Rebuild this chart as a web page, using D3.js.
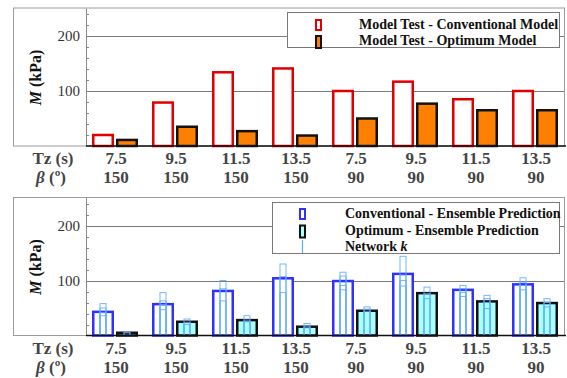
<!DOCTYPE html>
<html>
<head>
<meta charset="utf-8">
<script src="https://cdn.jsdelivr.net/npm/d3@7"></script>
<style>
  body { margin: 0; background: #fff; }
</style>
</head>
<body>
<div id="viz"></div>
<script>
// data
var tzLabels = ["7.5", "9.5", "11.5", "13.5", "7.5", "9.5", "11.5", "13.5"];
var betaLabels = ["150", "150", "150", "150", "90", "90", "90", "90"];

var testConventional = [20, 79, 134, 141, 100, 117, 85, 100];
var testOptimum = [11, 35, 27, 19, 50, 77, 65, 65];

var predConventional = [43, 57, 81, 104, 99, 112, 83, 93];
var predOptimum = [5, 25, 28, 16, 45, 77, 62, 59];

// individual network k predictions
var networkConventional = [[58, 50, 42, 36], [78, 63, 56, 47], [100, 85, 63], [130, 107, 78],
  [115, 108, 91, 83], [144, 110, 100, 90], [91, 85, 78, 71], [105, 97, 91, 83]];
var networkOptimum = [[6, 5], [30, 24, 20], [36, 28, 25], [22, 17, 14],
  [52, 48, 44], [88, 76, 67], [73, 67, 60, 49], [67, 60, 52]];

var yMajorTicks = [100, 200];
var yMinorTicks = [20, 40, 60, 80, 120, 140, 160, 180, 220, 240];

var serif = "'Liberation Serif', 'Times New Roman', 'DejaVu Serif', serif";

var svg = d3.select("#viz")
  .append("svg")
  .attr("width", 567)
  .attr("height", 378)
  .attr("font-family", serif);

var x = d3.scaleBand().domain(d3.range(tzLabels.length)).range([86, 566]);
var xs = d3.scaleBand().domain(["conv", "opt"]).range([6, 52]).paddingInner(1 / 12);

function drawPanel(cfg) {
  var y = d3.scaleLinear().domain([0, 250]).range([cfg.bottom, cfg.bottom - 137.5]);
  var g = svg.append("g");

  // outer frame
  g.append("rect")
    .attr("x", 13.5).attr("y", cfg.bottom - 138)
    .attr("width", 551).attr("height", 138)
    .attr("fill", "none").attr("stroke", "#9a9a9a").attr("stroke-width", 1);

  // grid lines
  g.selectAll("line.grid")
    .data(yMajorTicks)
    .enter()
    .append("line")
    .attr("x1", 86).attr("x2", 564)
    .attr("y1", function(d) { return Math.round(y(d)) + 0.5; })
    .attr("y2", function(d) { return Math.round(y(d)) + 0.5; })
    .attr("stroke", "#7a7a7a").attr("stroke-width", 1);

  // left axis
  g.append("line")
    .attr("x1", 86.5).attr("x2", 86.5)
    .attr("y1", y(250)).attr("y2", y(0))
    .attr("stroke", "#8a8a8a");
  g.selectAll("line.minor")
    .data(yMinorTicks)
    .enter()
    .append("line")
    .attr("x1", 86).attr("x2", 89)
    .attr("y1", function(d) { return Math.round(y(d)) + 0.5; })
    .attr("y2", function(d) { return Math.round(y(d)) + 0.5; })
    .attr("stroke", "#8a8a8a");
  g.selectAll("text.ytick")
    .data(yMajorTicks)
    .enter()
    .append("text")
    .attr("x", 80)
    .attr("y", function(d) { return y(d); })
    .attr("dy", "0.35em")
    .attr("text-anchor", "end")
    .attr("font-family", serif)
    .attr("font-size", 15)
    .attr("fill", "#333")
    .text(function(d) { return d; });

  // y label
  var yl = g.append("text")
    .attr("transform", "translate(41," + (cfg.bottom - 68.5) + ") rotate(-90)")
    .attr("text-anchor", "middle")
    .attr("font-family", serif)
    .attr("font-size", 16)
    .attr("font-weight", "bold")
    .attr("fill", "#111");
  yl.append("tspan").attr("font-style", "italic").text("M");
  yl.append("tspan").text(" (kPa)");

  // main bars
  cfg.series.forEach(function(s) {
    g.selectAll("rect." + s.key)
      .data(s.values)
      .enter()
      .append("rect")
      .attr("x", function(d, i) { return x(i) + xs(s.key) + 1.25; })
      .attr("width", xs.bandwidth() - 2.5)
      .attr("y", function(d) { return y(d); })
      .attr("height", function(d) { return y(0) - y(d); })
      .attr("fill", s.fill)
      .attr("stroke", s.stroke)
      .attr("stroke-width", 2.5);
  });

  // network k bars
  if (cfg.networks) {
    cfg.networks.forEach(function(n) {
      n.values.forEach(function(vals, i) {
        g.selectAll("rect.net" + n.key + i)
          .data(vals)
          .enter()
          .append("rect")
          .attr("x", x(i) + xs(n.key) + xs.bandwidth() / 2 - 3)
          .attr("width", 6)
          .attr("y", function(d) { return y(d); })
          .attr("height", function(d) { return y(0) - y(d); })
          .attr("fill", "none")
          .attr("stroke", "#5aaaff")
          .attr("stroke-opacity", 0.85)
          .attr("stroke-width", 1);
      });
    });
  }

  // bottom axis line
  g.append("line")
    .attr("x1", 86).attr("x2", 566)
    .attr("y1", y(0)).attr("y2", y(0))
    .attr("stroke", "#111").attr("stroke-width", 1.5);

  // category labels
  var rows = [{ labels: tzLabels, dy: 18 }, { labels: betaLabels, dy: 37 }];
  rows.forEach(function(r) {
    g.selectAll("text.cat")
      .data(r.labels, function(d, i) { return i + r.dy; })
      .enter()
      .append("text")
      .attr("x", function(d, i) { return x(i) + x.bandwidth() / 2; })
      .attr("y", cfg.bottom + r.dy)
      .attr("text-anchor", "middle")
      .attr("font-family", serif)
      .attr("font-size", 17)
      .attr("font-weight", "bold")
      .attr("fill", "#444")
      .text(function(d) { return d; });
  });
  g.append("text")
    .attr("x", 53).attr("y", cfg.bottom + 18)
    .attr("text-anchor", "middle")
    .attr("font-family", serif)
    .attr("font-size", 17).attr("font-weight", "bold").attr("fill", "#444")
    .text("Tz (s)");
  var bl = g.append("text")
    .attr("x", 51).attr("y", cfg.bottom + 37)
    .attr("text-anchor", "middle")
    .attr("font-family", serif)
    .attr("font-size", 17).attr("font-weight", "bold").attr("fill", "#444");
  bl.append("tspan").attr("font-style", "italic").text("β");
  bl.append("tspan").text(" (º)");

  // legend
  var lg = cfg.legend;
  g.append("rect")
    .attr("x", lg.x + 0.5).attr("y", lg.y + 0.5)
    .attr("width", lg.w).attr("height", lg.h)
    .attr("fill", "#fff").attr("stroke", "#777");
  lg.items.forEach(function(it, i) {
    var base = lg.y + lg.first + i * lg.step;
    if (it.type === "line") {
      g.append("line")
        .attr("x1", lg.sx + 2.5).attr("x2", lg.sx + 2.5)
        .attr("y1", base - 11).attr("y2", lg.y + lg.h)
        .attr("stroke", "#5aaaff").attr("stroke-width", 1.2);
    } else {
      g.append("rect")
        .attr("x", lg.sx).attr("y", base - 9)
        .attr("width", 5).attr("height", 10 + i * 2)
        .attr("fill", it.fill).attr("stroke", it.stroke).attr("stroke-width", 2);
    }
    var t = g.append("text")
      .attr("x", lg.tx).attr("y", base)
      .attr("font-family", serif)
      .attr("font-size", 14).attr("font-weight", "bold").attr("fill", "#111");
    t.append("tspan").text(it.label);
    if (it.italic) t.append("tspan").attr("font-style", "italic").text(it.italic);
  });
}

drawPanel({
  bottom: 146,
  series: [
    { key: "conv", values: testConventional, fill: "#fff", stroke: "#e00000" },
    { key: "opt", values: testOptimum, fill: "#ff8000", stroke: "#111" }
  ],
  legend: {
    x: 287, y: 12, w: 272, h: 35, first: 17, step: 16, sx: 316, tx: 359,
    items: [
      { label: "Model Test - Conventional Model", fill: "#fff", stroke: "#e00000" },
      { label: "Model Test - Optimum Model", fill: "#ff8000", stroke: "#111" }
    ]
  }
});

drawPanel({
  bottom: 335.5,
  series: [
    { key: "conv", values: predConventional, fill: "#fff", stroke: "#3030ff" },
    { key: "opt", values: predOptimum, fill: "#aaffff", stroke: "#111" }
  ],
  networks: [
    { key: "conv", values: networkConventional },
    { key: "opt", values: networkOptimum }
  ],
  legend: {
    x: 272, y: 202, w: 287, h: 51, first: 16, step: 16.5, sx: 300, tx: 345,
    items: [
      { label: "Conventional - Ensemble Prediction", fill: "#fff", stroke: "#3030ff" },
      { label: "Optimum - Ensemble Prediction", fill: "#aaffff", stroke: "#111" },
      { label: "Network ", italic: "k", type: "line" }
    ]
  }
});
</script>
</body>
</html>
